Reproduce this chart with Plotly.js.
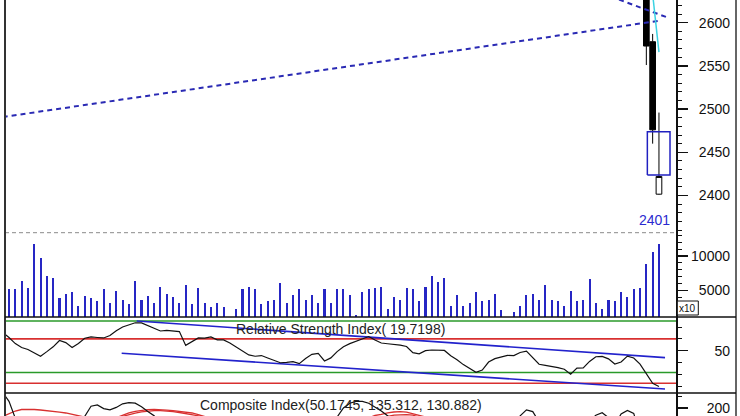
<!DOCTYPE html>
<html><head><meta charset="utf-8">
<script src="https://cdn.plot.ly/plotly-3.0.1.min.js"></script>
<style>html,body{margin:0;padding:0;background:#fff}#chart{width:740px;height:416px}</style>
</head><body><div id="chart"></div>
<script>
// ---- data (bar index 0..104) ----
const volume = [null,
 5140,5140,6390,5280,11730,9650,7070,6830,3830,4450,
 4700,2710,4210,3830,3440,5140,3190,4890,3580,2950,
 6390,3580,4210,3190,5520,4450,4020,3190,5760,2950,
 5280,3190,2520,3190,2520,900,2310,5140,5520,5140,
 2950,3440,3580,6010,3190,4260,5140,3630,4260,3190,
 5140,3190,5140,5140,4260,1400,4700,5140,5280,5520,
 2310,4020,3630,5280,5140,3440,5520,7070,6160,6830,
 2710,4260,2710,3190,4700,3440,3630,4450,2130,1000,
 1880,2710,4260,4450,3630,5760,3630,3440,2710,4890,
 3440,3630,6590,3190,2310,3630,3440,4700,4020,5140,
 5280,8820,10520,11730];

const rsi = [65.4,
 61.2,56.0,52.7,51.0,48.1,45.3,49.2,53.3,58.6,56.9,
 52.7,56.1,60.6,61.7,61.2,60.8,62.9,66.9,70.1,71.8,
 73.7,73.6,71.3,68.6,66.7,67.3,66.7,66.2,54.5,57.4,
 60.8,60.7,61.7,59.2,59.1,56.6,53.1,49.3,46.4,45.3,
 45.9,43.8,41.9,39.8,40.1,40.7,39.0,43.4,46.9,47.8,
 41.3,43.9,49.2,53.3,56.0,58.0,60.5,62.0,59.1,56.5,
 55.9,55.5,54.8,53.6,48.3,47.4,50.0,50.6,50.6,50.2,
 45.7,42.4,38.2,34.9,31.7,33.6,40.4,43.3,44.7,46.0,
 45.8,48.5,49.6,43.6,38.5,37.5,36.9,35.7,34.3,30.1,
 35.2,35.5,40.9,44.9,45.2,43.1,38.7,40.4,45.4,43.8,
 38.6,30.9,22.3,19.7198];

const compBlack = [226,
 211,183,150,138,130,128,135,145,155,162,
 168,175,186,203,205,199,197,201,207,209,
 208,202,194,187,172,160,150,140,118,128,
 140,145,150,146,150,143,133,123,116,113,
 116,110,106,103,106,110,108,124,140,150,
 138,160,185,200,208,211,211,208,202,195,
 187,172,168,162,148,146,154,158,160,157,
 144,133,122,112,102,110,134,150,160,166,
 172,187,197,194,172,160,155,150,144,128,
 150,163,178,188,192,184,172,190,196,191,
 165,122,80,50.1745];

const compRed1 = [185.8,
 190.8,195,197.5,197.8,197.5,196.7,195.8,194.2,193,191.7,
 189.7,187.5,184,181,179,178,180,184,188,191.7,
 194.2,196.3,197.3,197.8,197.5,196.3,195.5,194.2,192.8,191.7,
 188.8,185,181,177,172,168,164,160,156,152,
 149,146,144,142,141,140,141,143,146,150,
 154,158,163,168,172,176,180,184,187.5,189.2,
 192,193.3,193.8,193,190.8,188.3,185,181,177,173,
 168,163,158,153,148,145,143,142,143,145,
 148,152,156,160,162,163,162,160,157,154,
 152,151,152,154,157,159,160,160,159,157,
 153,147,141,135.312];

const compRed2 = [178,
 180,182,184,185,185.5,185,184,182,180,178,
 176,175,174,174,175,177,180,183,186,189,
 191.5,193.5,195,195.5,195.5,195,194,192.5,191,189,
 187,184.5,182,179,176,172,168,164,160,156,
 153,150,148,146,145,144,144,145,147,150,
 153,156,160,164,168,172,175,178,181,184,
 186,188,189,189,188,186,183,180,176,172,
 168,164,160,156,152,149,147,146,146,147,
 149,151,153,156,158,159,159,158,156,154,
 152,150,149,149,150,151,152,152,151,149,
 146,142,136,130.882];

// visible candles
const candleIdx = [102, 103, 104];
const openP  = [2660, 2578, 2401.5];
const highP  = [2670, 2587, 2496];
const lowP   = [2551, 2460, 2401];
const closeP = [2573, 2476, 2422];

// cyan line
const cyanIdx = [102, 103, 104];
const cyanVal = [2700, 2632, 2566];

// blue range box
const boxIdx = [102.16, 105.75];
const boxPrice = [2423.7, 2473.8];

// dotted trend lines
const trendUpIdx = [0, 103.8], trendUpVal = [2490.8, 2602];
const trendDnIdx = [95, 105.7], trendDnVal = [2634, 2605.1];

// RSI levels and trend lines
const rsiGreen = [75.2, 31.5];
const rsiRed = [60, 22.4];
const rsiUpIdx = [21.24, 104.96], rsiUpVal = [75.2, 44.1];
const rsiLowIdx = [18.86, 104.96], rsiLowVal = [47.8, 17.5];

// ---- build ----
const idx = volume.map((_, i) => i);
const FONT = "Arial, 'Liberation Sans', sans-serif";
const BLUE = '#2626c4';

const traces = [];
traces.push({type:'scatter', mode:'lines', x:trendUpIdx, y:trendUpVal, xaxis:'x', yaxis:'y',
  line:{color:'#2a2ab4', width:2, dash:'5px,4px'}, hoverinfo:'skip', showlegend:false});
traces.push({type:'scatter', mode:'lines', x:trendDnIdx, y:trendDnVal, xaxis:'x', yaxis:'y',
  line:{color:'#2a2ab4', width:2, dash:'5px,4px'}, hoverinfo:'skip', showlegend:false});
traces.push({type:'scatter', mode:'lines',
  x:[boxIdx[0], boxIdx[1], boxIdx[1], boxIdx[0], boxIdx[0]],
  y:[boxPrice[0], boxPrice[0], boxPrice[1], boxPrice[1], boxPrice[0]],
  xaxis:'x', yaxis:'y', line:{color:'#2020c0', width:1.5}, hoverinfo:'skip', showlegend:false});
traces.push({type:'candlestick', x:candleIdx, open:openP, high:highP, low:lowP, close:closeP,
  xaxis:'x', yaxis:'y', whiskerwidth:0,
  increasing:{line:{color:'#000', width:1}, fillcolor:'#ffffff'},
  decreasing:{line:{color:'#000', width:1}, fillcolor:'#000000'},
  hoverinfo:'skip', showlegend:false});
traces.push({type:'scatter', mode:'lines', x:cyanIdx, y:cyanVal, xaxis:'x', yaxis:'y',
  line:{color:'#3cd2e2', width:1.5}, hoverinfo:'skip', showlegend:false});
traces.push({type:'bar', x:idx, y:volume, xaxis:'x', yaxis:'y2', width:0.33,
  marker:{color:BLUE, line:{width:0}}, hoverinfo:'skip', showlegend:false});
traces.push({type:'scatter', mode:'lines', x:rsiUpIdx, y:rsiUpVal, xaxis:'x', yaxis:'y3',
  line:{color:'#2222cc', width:1.6}, hoverinfo:'skip', showlegend:false});
traces.push({type:'scatter', mode:'lines', x:rsiLowIdx, y:rsiLowVal, xaxis:'x', yaxis:'y3',
  line:{color:'#2222cc', width:1.6}, hoverinfo:'skip', showlegend:false});
traces.push({type:'scatter', mode:'lines', x:idx, y:rsi, xaxis:'x', yaxis:'y3',
  line:{color:'#111', width:1.2}, hoverinfo:'skip', showlegend:false});
traces.push({type:'scatter', mode:'lines', x:idx, y:compRed2, xaxis:'x', yaxis:'y4',
  line:{color:'#d83030', width:1.3}, hoverinfo:'skip', showlegend:false});
traces.push({type:'scatter', mode:'lines', x:idx, y:compRed1, xaxis:'x', yaxis:'y4',
  line:{color:'#d83030', width:1.3}, hoverinfo:'skip', showlegend:false});
traces.push({type:'scatter', mode:'lines', x:idx, y:compBlack, xaxis:'x', yaxis:'y4',
  line:{color:'#111', width:1.2}, hoverinfo:'skip', showlegend:false});
['y5','y6','y7','y8'].forEach(a => traces.push({type:'scatter', x:[], y:[], xaxis:'x', yaxis:a, showlegend:false, hoverinfo:'skip'}));

const H = 416, W = 740;
const py = p => 1 - p / H;
const px = p => p / W;

function rightAxis(domain, range, dtick, minorDtick) {
  return {domain, range, side:'right', anchor:'x', showline:true, linecolor:'#111', linewidth:1.5,
    ticks:'outside', ticklen:10, tickwidth:1.5, tickcolor:'#111', tickmode:'linear', tick0:0, dtick,
    minor:{ticks:'outside', ticklen:4, tickwidth:1, tickcolor:'#111', tickmode:'linear', tick0:0, dtick:minorDtick},
    showticklabels:false, showgrid:false, zeroline:false, fixedrange:true};
}
function labelAxis(over, range, dtick) {
  return {overlaying:over, range, side:'left', anchor:'free', position:0.9865,
    showline:false, ticks:'', tickmode:'linear', tick0:0, dtick, showgrid:false, zeroline:false,
    tickformat:'d', exponentformat:'none', separatethousands:false,
    tickfont:{family:FONT, size:14, color:'#111'}};
}

const dPrice = [py(232.7), 1], dVol = [py(317), py(232.7)], dRsi = [py(393), py(317)], dComp = [0, py(393)];
const rPrice = [2356.9, 2626.3], rVol = [1106, 13377], rRsi = [14.15, 78.56], rComp = [186.67, 225];

const shapes = [];
const line = (x0,y0,x1,y1,color,width,dash) => ({type:'line', xref:'paper', yref:'paper', x0, y0, x1, y1, line:{color, width, dash:dash||'solid'}});
rsiGreen.forEach(v => shapes.push({type:'line', xref:'x domain', yref:'y3', x0:0, x1:1, y0:v, y1:v, line:{color:'#2a9a2a', width:1.6}, layer:'below'}));
rsiRed.forEach(v => shapes.push({type:'line', xref:'x domain', yref:'y3', x0:0, x1:1, y0:v, y1:v, line:{color:'#d83030', width:1.6}, layer:'below'}));
shapes.push({type:'line', xref:'x domain', yref:'y domain', x0:0, x1:1, y0:0, y1:0, line:{color:'#8a8a8a', width:1, dash:'4px,3px'}});
shapes.push(line(px(5), 0, px(5), 1, '#333', 2));
shapes.push(line(px(736), 0, px(736), 1, '#333', 1.5));
shapes.push(line(px(5), py(317), px(736), py(317), '#111', 1.5));
shapes.push(line(px(5), py(393), px(736), py(393), '#111', 1.5));
shapes.push({type:'rect', xref:'paper', yref:'paper', x0:px(677.3), x1:px(698.3), y0:py(315), y1:py(301), line:{color:'#111', width:1}, fillcolor:'#fff'});

const lowest = Math.min(...lowP);
const annotations = [
  {xref:'x domain', yref:'paper', x:0.5, y:py(329), text:'Relative Strength Index( ' + rsi[rsi.length-1] + ')',
   showarrow:false, xanchor:'center', yanchor:'middle', font:{family:FONT, size:14, color:'#222'}},
  {xref:'x domain', yref:'paper', x:0.5, y:py(405),
   text:'Composite Index(' + compBlack[compBlack.length-1] + ', ' + compRed1[compRed1.length-1] + ', ' + compRed2[compRed2.length-1] + ')',
   showarrow:false, xanchor:'center', yanchor:'middle', font:{family:FONT, size:14, color:'#222'}},
  {xref:'x', yref:'y', x:candleIdx[lowP.indexOf(lowest)], y:lowest, text:String(lowest), showarrow:false,
   xanchor:'center', yanchor:'top', xshift:-4, yshift:-15, font:{family:FONT, size:14, color:'#2a2ad0'}},
  {xref:'paper', yref:'paper', x:px(687.8), y:py(308), text:'x10', showarrow:false, xanchor:'center', yanchor:'middle',
   font:{family:FONT, size:10, color:'#111'}}
];

const layout = {
  width:W, height:H, margin:{l:0, r:0, t:0, b:0}, paper_bgcolor:'#fff', plot_bgcolor:'#fff',
  showlegend:false, boxgap:0.1, boxgroupgap:0, bargap:0,
  xaxis:{domain:[px(5), px(676)], range:[0.366, 106.7], showgrid:false, zeroline:false, showline:false,
    ticks:'', showticklabels:false, rangeslider:{visible:false}, fixedrange:true},
  yaxis: rightAxis(dPrice, rPrice, 50, 10),
  yaxis2: rightAxis(dVol, rVol, 5000, 1000),
  yaxis3: rightAxis(dRsi, rRsi, 50, 10),
  yaxis4: rightAxis(dComp, rComp, 200, 20),
  yaxis5: labelAxis('y', rPrice, 50),
  yaxis6: labelAxis('y2', rVol, 5000),
  yaxis7: labelAxis('y3', rRsi, 50),
  yaxis8: labelAxis('y4', rComp, 200),
  shapes, annotations, font:{family:FONT}
};

Plotly.newPlot('chart', traces, layout, {staticPlot:true, displayModeBar:false});
</script></body></html>
